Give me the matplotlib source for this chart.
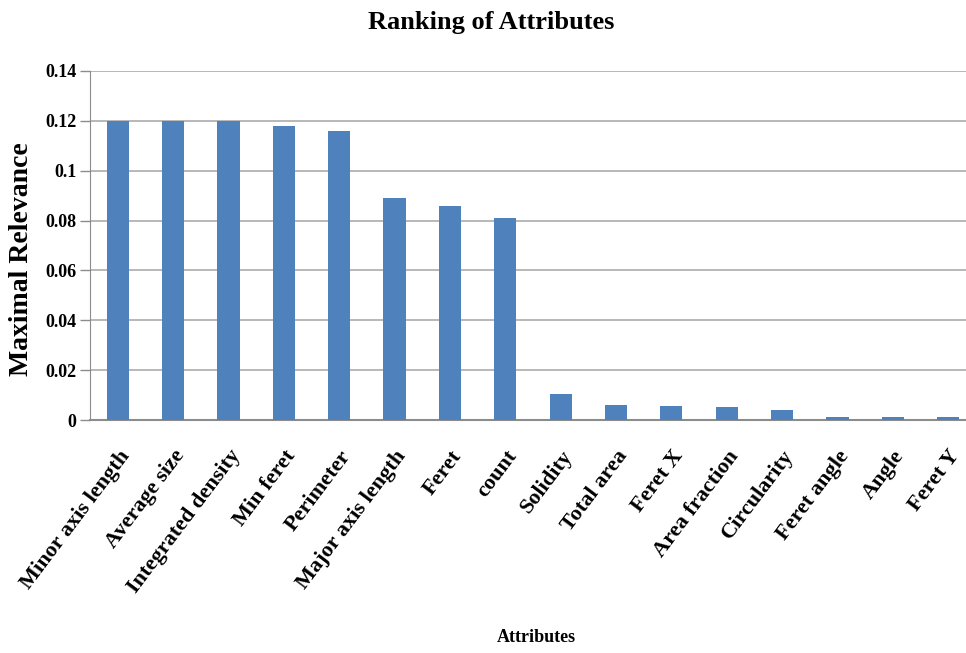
import matplotlib.pyplot as plt

# Data
attributes = ["Minor axis length", "Average size", "Integrated density", "Min feret",
              "Perimeter", "Major axis length", "Feret", "count", "Solidity",
              "Total area", "Feret X", "Area fraction", "Circularity", "Feret angle",
              "Angle", "Feret Y"]
relevance = [0.120, 0.120, 0.120, 0.118, 0.116, 0.089, 0.086, 0.081, 0.0104,
             0.0061, 0.0056, 0.0051, 0.0041, 0.0011, 0.0011, 0.0011]
yticks = [0, 0.02, 0.04, 0.06, 0.08, 0.1, 0.12, 0.14]
ytick_labels = ["0", "0.02", "0.04", "0.06", "0.08", "0.1", "0.12", "0.14"]

plt.rcParams['font.family'] = ['Liberation Serif', 'DejaVu Serif']
plt.rcParams['font.weight'] = 'bold'

fig = plt.figure(figsize=(9.66, 6.53), dpi=100)
ax = fig.add_axes([0.0932, 0.3568, 0.917, 0.5345])

x = range(len(attributes))
ax.bar(x, relevance, width=0.40, color='#4F81BD', zorder=3)

ax.set_xlim(-0.5, len(attributes) - 0.5)
ax.set_ylim(0, 0.14)
ax.set_yticks(yticks)
ax.set_yticklabels(ytick_labels, fontsize=13, fontweight='bold')
ax.yaxis.grid(True, color='#ABABAB', linewidth=1.2, zorder=0)
ax.set_axisbelow(True)

ax.set_xticks(list(x))
ax.set_xticklabels(attributes, rotation=53, ha='right', va='top',
                   rotation_mode='anchor', fontsize=16, fontweight='bold')
ax.tick_params(axis='x', length=0, pad=19)
ax.tick_params(axis='y', length=7, width=1, color='#8C8C8C', pad=3)

for side in ['top', 'right']:
    ax.spines[side].set_visible(False)
ax.spines['left'].set_color('#8C8C8C')
ax.spines['bottom'].set_color('#8C8C8C')
ax.spines['bottom'].set_linewidth(1.5)

ax.set_ylabel("Maximal Relevance", fontsize=20, fontweight='bold')
ax.yaxis.set_label_coords(-0.063, 0.46)
fig.text(0.555, 0.023, "Attributes", ha='center', va='center', fontsize=13, fontweight='bold')
fig.text(0.508, 0.966, "Ranking of Attributes", ha='center', va='center', fontsize=19, fontweight='bold')

fig.savefig('out.png', dpi=100)
